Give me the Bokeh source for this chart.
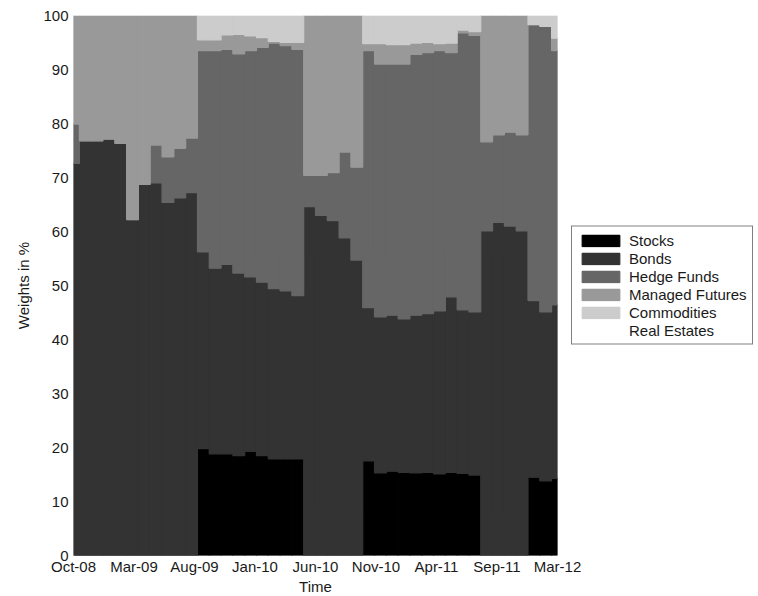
import numpy as np
from bokeh.plotting import figure
from bokeh.models import ColumnDataSource, Range1d, FixedTicker, Legend, LegendItem
from bokeh.embed import file_html
from bokeh.resources import INLINE

# Monthly portfolio weights (in %), Oct-08 .. Mar-12 (42 rebalancing dates)
stocks = [0, 0, 0, 0, 0, 0, 0, 0, 0, 0, 0,
          19.8, 18.8, 18.8, 18.5, 19.3, 18.5, 17.9, 17.9, 17.9,
          0, 0, 0, 0, 0,
          17.5, 15.3, 15.6, 15.4, 15.3, 15.4, 15.1, 15.4, 15.2, 14.9,
          0, 0, 0, 0,
          14.5, 13.8, 14.3]
bonds = [72.6, 76.8, 76.8, 77.1, 76.3, 62.2, 68.7, 69.0, 65.4, 66.2, 67.2,
         36.4, 34.4, 35.1, 33.8, 32.3, 32.1, 31.5, 31.1, 30.2,
         64.6, 63.0, 62.0, 58.8, 54.7,
         28.4, 28.9, 28.9, 28.4, 29.2, 29.4, 30.2, 32.5, 30.3, 30.2,
         60.1, 61.7, 61.0, 60.1,
         32.7, 31.3, 32.1]
hedge_funds = [7.3, 0, 0, 0, 0, 0, 0, 7.0, 8.4, 9.2, 10.1,
               37.3, 40.3, 39.8, 40.6, 41.9, 43.5, 45.5, 45.4, 45.6,
               5.8, 7.4, 8.9, 15.9, 17.2,
               47.6, 46.8, 46.5, 47.2, 48.3, 48.3, 48.2, 45.2, 51.3, 51.2,
               16.5, 16.2, 17.4, 17.8,
               51.1, 52.9, 47.1]
managed_futures = [20.1, 23.2, 23.2, 22.9, 23.7, 37.8, 31.3, 24.0, 26.2, 24.6, 22.7,
                   2.0, 2.0, 2.7, 3.6, 2.7, 1.8, 0.3, 0.6, 1.3,
                   29.6, 29.6, 29.1, 25.3, 28.1,
                   1.3, 3.8, 3.6, 3.6, 2.1, 1.9, 1.3, 1.8, 0.5, 0.7,
                   23.4, 22.1, 21.6, 22.1,
                   0, 0, 2.3]
commodities = [0, 0, 0, 0, 0, 0, 0, 0, 0, 0, 0,
               4.5, 4.5, 3.6, 3.5, 3.8, 4.1, 4.8, 5.0, 5.0,
               0, 0, 0, 0, 0,
               5.2, 5.2, 5.4, 5.4, 5.1, 5.0, 5.2, 5.1, 2.7, 3.0,
               0, 0, 0, 0,
               1.7, 2.0, 4.2]
real_estates = [0, 0, 0, 0, 0, 0, 0, 0, 0, 0, 0,
                0, 0, 0, 0, 0, 0, 0, 0, 0,
                0, 0, 0, 0, 0,
                0, 0, 0, 0, 0, 0, 0, 0, 0, 0,
                0, 0, 0, 0,
                0, 0, 0]

asset_names = ["Stocks", "Bonds", "Hedge Funds", "Managed Futures",
               "Commodities", "Real Estates"]
asset_colors = ["#000000", "#333333", "#666666", "#999999", "#cccccc", "#ffffff"]
tick_labels = ["Oct-08", "Mar-09", "Aug-09", "Jan-10", "Jun-10",
               "Nov-10", "Apr-11", "Sep-11", "Mar-12"]

n = len(stocks)
x = list(range(n))
source = ColumnDataSource(dict(
    x=x,
    **{"Stocks": stocks, "Bonds": bonds, "Hedge Funds": hedge_funds,
       "Managed Futures": managed_futures, "Commodities": commodities,
       "Real Estates": real_estates}))

FONT = "Liberation Sans"

p = figure(frame_width=484, frame_height=540, output_backend="svg",
           toolbar_location=None,
           x_range=Range1d(0, n - 1), y_range=Range1d(0, 100),
           min_border_left=73, min_border_right=0,
           min_border_top=15, min_border_bottom=41)
p.outline_line_color = None
p.xgrid.visible = False
p.ygrid.visible = False
p.background_fill_color = "white"
p.border_fill_color = "white"

renderers = p.vbar_stack(asset_names, x="x", width=1.0, source=source,
                         fill_color=asset_colors, line_color=asset_colors,
                         line_width=1.2)

# date ticks spread evenly over the time axis
tick_pos = [float(v) for v in np.linspace(0, n - 1, len(tick_labels))]
p.xaxis.ticker = FixedTicker(ticks=tick_pos)
p.xaxis.major_label_overrides = {t: lab for t, lab in zip(tick_pos, tick_labels)}
p.yaxis.ticker = FixedTicker(ticks=list(range(0, 101, 10)))

for ax in (p.xaxis, p.yaxis):
    ax.axis_line_color = None
    ax.major_tick_in = 0
    ax.major_tick_out = 0
    ax.minor_tick_line_color = None
    ax.major_label_text_font = FONT
    ax.major_label_text_font_size = "15px"
    ax.major_label_text_color = "#1a1a1a"
    ax.axis_label_text_font = FONT
    ax.axis_label_text_font_size = "15px"
    ax.axis_label_text_font_style = "normal"
    ax.axis_label_text_color = "#1a1a1a"

p.xaxis.axis_label = "Time"
p.xaxis.major_label_standoff = 2
p.xaxis.axis_label_standoff = 0
p.yaxis.axis_label = "Weights in %"
p.yaxis.major_label_standoff = 5
p.yaxis.axis_label_standoff = 8

lg = Legend(items=[LegendItem(label=name, renderers=[r])
                   for name, r in zip(asset_names, renderers)])
lg.location = "center_left"
lg.orientation = "vertical"
lg.border_line_color = "black"
lg.border_line_width = 1
lg.background_fill_color = "white"
lg.background_fill_alpha = 1.0
lg.padding = 5
lg.margin = 14
lg.spacing = 1
lg.glyph_width = 47
lg.glyph_height = 14
lg.label_height = 15
lg.label_standoff = 5
lg.label_text_font = FONT
lg.label_text_font_size = "15px"
lg.label_text_color = "#1a1a1a"
p.add_layout(lg, "right")

open("out.html", "w").write(file_html(p, INLINE))
